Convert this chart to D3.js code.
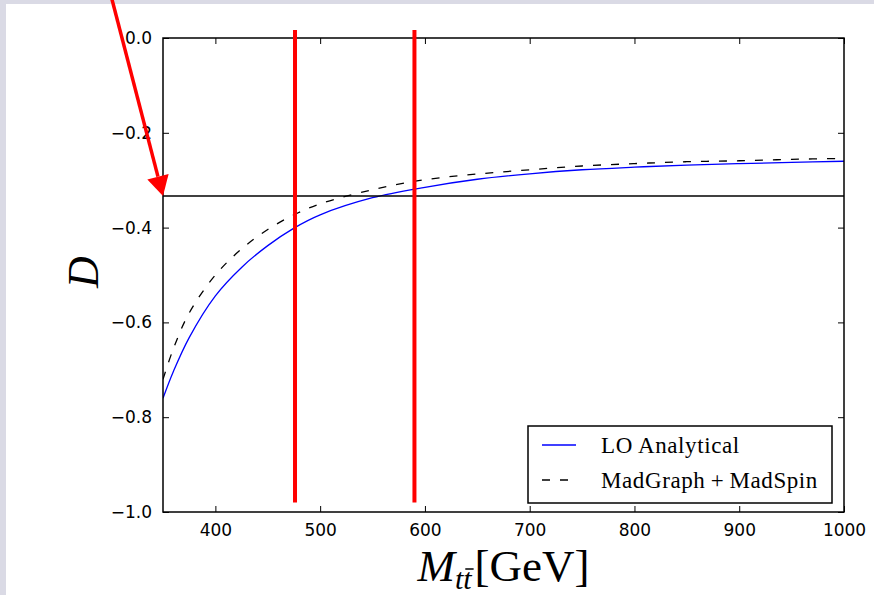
<!DOCTYPE html>
<html>
<head>
<meta charset="utf-8">
<script src="https://cdn.jsdelivr.net/npm/d3@7"></script>
<style>
  html, body { margin: 0; padding: 0; background: #fff; }
  svg { display: block; }
</style>
</head>
<body>
<div id="chart"></div>
<script>
// Data
var massValues = [350, 360, 375, 400, 425, 450, 475, 500, 550, 600, 650, 700, 750, 800, 850, 900, 950, 1000];
var loAnalytical = [-0.760, -0.703, -0.632, -0.544, -0.484, -0.438, -0.401, -0.373, -0.337, -0.315, -0.298, -0.2865, -0.278, -0.2725, -0.268, -0.265, -0.2625, -0.260];
var madGraph = [-0.720, -0.655, -0.580, -0.500, -0.445, -0.404, -0.373, -0.350, -0.320, -0.299, -0.287, -0.278, -0.270, -0.265, -0.261, -0.259, -0.256, -0.254];
var xTicks = [400, 500, 600, 700, 800, 900, 1000];
var yTicks = [0, -0.2, -0.4, -0.6, -0.8, -1.0];
var seriesNames = ["LO Analytical", "MadGraph\u2009+\u2009MadSpin"];
var referenceLevel = -1 / 3;
var redMarkers = [476, 590];
var redMarkerRange = [-0.98, 0.017];
var arrowFrom = [301, 0.084];
var arrowTo = [350, referenceLevel];

var attrs = {
  svgWidth: 874,
  svgHeight: 595,
  marginLeft: 163,
  marginTop: 38,
  chartWidth: 681,
  chartHeight: 474,
  tickFont: 'DejaVu Sans, sans-serif',
  mathFont: 'Liberation Serif, Times New Roman, serif'
};

var svg = d3.select('#chart').append('svg')
  .attr('width', attrs.svgWidth)
  .attr('height', attrs.svgHeight);

// frame strips of the slide
svg.append('rect').attr('x', 0).attr('y', 0).attr('width', attrs.svgWidth).attr('height', 4).attr('fill', '#dadae5');
svg.append('rect').attr('x', 0).attr('y', 0).attr('width', 6).attr('height', attrs.svgHeight).attr('fill', '#dadae5');

var chart = svg.append('g')
  .attr('transform', 'translate(' + attrs.marginLeft + ',' + attrs.marginTop + ')');

var x = d3.scaleLinear().domain([350, 1000]).range([0, attrs.chartWidth]);
var y = d3.scaleLinear().domain([-1, 0]).range([attrs.chartHeight, 0]);

var fmt = function (d) { return d3.format('.1f')(d).replace('-', '\u2212'); };

// ticks, inward on all four sides
function styleAxis(g) {
  g.select('.domain').remove();
  g.selectAll('.tick line').attr('stroke', '#000').attr('stroke-width', 1);
  g.selectAll('.tick text').attr('font-family', attrs.tickFont).attr('font-size', 17).attr('fill', '#000');
}

chart.append('g')
  .attr('transform', 'translate(0,' + attrs.chartHeight + ')')
  .call(d3.axisBottom(x).tickValues(xTicks).tickSize(-6).tickPadding(12).tickFormat(d3.format('d')))
  .call(styleAxis);

chart.append('g')
  .call(d3.axisTop(x).tickValues(xTicks).tickSize(-6).tickFormat(''))
  .call(styleAxis);

chart.append('g')
  .call(d3.axisLeft(y).tickValues(yTicks).tickSize(-6).tickPadding(11).tickFormat(fmt))
  .call(styleAxis);

chart.append('g')
  .attr('transform', 'translate(' + attrs.chartWidth + ',0)')
  .call(d3.axisRight(y).tickValues(yTicks).tickSize(-6).tickFormat(''))
  .call(styleAxis);

// curves
chart.append('clipPath').attr('id', 'plotClip')
  .append('rect').attr('width', attrs.chartWidth).attr('height', attrs.chartHeight);

var line = d3.line()
  .curve(d3.curveCatmullRom.alpha(0.5))
  .x(function (d) { return x(d[0]); })
  .y(function (d) { return y(d[1]); });

var plot = chart.append('g').attr('clip-path', 'url(#plotClip)');

plot.append('path')
  .datum(massValues.map(function (m, i) { return [m, madGraph[i]]; }))
  .attr('fill', 'none')
  .attr('stroke', '#000')
  .attr('stroke-width', 1.3)
  .attr('stroke-dasharray', '8,10')
  .attr('d', line);

plot.append('path')
  .datum(massValues.map(function (m, i) { return [m, loAnalytical[i]]; }))
  .attr('fill', 'none')
  .attr('stroke', '#0000ff')
  .attr('stroke-width', 1.3)
  .attr('d', line);

// reference level
chart.append('line')
  .attr('x1', x(350)).attr('x2', x(1000))
  .attr('y1', y(referenceLevel)).attr('y2', y(referenceLevel))
  .attr('stroke', '#000').attr('stroke-width', 1.6);

// axes frame
chart.append('rect')
  .attr('width', attrs.chartWidth).attr('height', attrs.chartHeight)
  .attr('fill', 'none').attr('stroke', '#000').attr('stroke-width', 1.5);

// legend
var legend = chart.append('g').attr('transform', 'translate(' + (528 - attrs.marginLeft) + ',' + (426 - attrs.marginTop) + ')');
legend.append('rect')
  .attr('width', 304).attr('height', 77)
  .attr('fill', '#fff').attr('stroke', '#000').attr('stroke-width', 1.5);

legend.selectAll('line.sample').data(seriesNames).enter().append('line')
  .attr('class', 'sample')
  .attr('x1', 14).attr('x2', 48)
  .attr('y1', function (d, i) { return 19 + i * 35; })
  .attr('y2', function (d, i) { return 19 + i * 35; })
  .attr('stroke', function (d, i) { return i === 0 ? '#0000ff' : '#000'; })
  .attr('stroke-width', 1.3)
  .attr('stroke-dasharray', function (d, i) { return i === 0 ? null : '8,10'; });

legend.selectAll('text.label').data(seriesNames).enter().append('text')
  .attr('class', 'label')
  .attr('x', 73)
  .attr('y', function (d, i) { return 27 + i * 35; })
  .attr('font-family', attrs.mathFont)
  .attr('font-size', 23)
  .attr('letter-spacing', 0.6)
  .attr('fill', '#000')
  .text(function (d) { return d; });

// red markers
svg.append('g').selectAll('line').data(redMarkers).enter().append('line')
  .attr('x1', function (d) { return attrs.marginLeft + x(d); })
  .attr('x2', function (d) { return attrs.marginLeft + x(d); })
  .attr('y1', attrs.marginTop + y(redMarkerRange[1]))
  .attr('y2', attrs.marginTop + y(redMarkerRange[0]))
  .attr('stroke', '#ff0000')
  .attr('stroke-width', 4);

// red arrow
var ax0 = attrs.marginLeft + x(arrowFrom[0]), ay0 = attrs.marginTop + y(arrowFrom[1]);
var ax1 = attrs.marginLeft + x(arrowTo[0]), ay1 = attrs.marginTop + y(arrowTo[1]);
var ang = Math.atan2(ay1 - ay0, ax1 - ax0);
var headLen = 20, headHalf = 11;
var bx = ax1 - headLen * Math.cos(ang), by = ay1 - headLen * Math.sin(ang);
svg.append('line')
  .attr('x1', ax0).attr('y1', ay0).attr('x2', bx).attr('y2', by)
  .attr('stroke', '#ff0000').attr('stroke-width', 3.5);
svg.append('path')
  .attr('d', 'M' + ax1 + ',' + ay1 +
    'L' + (bx + headHalf * Math.sin(ang)) + ',' + (by - headHalf * Math.cos(ang)) +
    'L' + (bx - headHalf * Math.sin(ang)) + ',' + (by + headHalf * Math.cos(ang)) + 'Z')
  .attr('fill', '#ff0000');

// x title: M_{t tbar}[GeV], pieces measured and placed one after another
var xTitle = svg.append('g');
var pieces = [
  { text: 'M', size: 45, italic: true, dy: 0 },
  { text: 't', size: 30, italic: true, dy: 8 },
  { text: 't', size: 30, italic: true, dy: 8, bar: true },
  { text: '[GeV]', size: 45, italic: false, dy: 0, gap: 3 }
];
var cursor = 0;
pieces.forEach(function (p) {
  cursor += p.gap || 0;
  var t = xTitle.append('text')
    .attr('x', cursor)
    .attr('y', p.dy)
    .attr('font-family', attrs.mathFont)
    .attr('font-size', p.size)
    .attr('font-style', p.italic ? 'italic' : 'normal')
    .attr('fill', '#000')
    .text(p.text);
  var w = t.node().getComputedTextLength();
  if (p.bar) {
    xTitle.append('line')
      .attr('x1', cursor + 2).attr('x2', cursor + w + 2)
      .attr('y1', p.dy - 20).attr('y2', p.dy - 20)
      .attr('stroke', '#000').attr('stroke-width', 1.5);
  }
  cursor += w;
});
xTitle.attr('transform', 'translate(' + (attrs.marginLeft + attrs.chartWidth / 2 - cursor / 2) + ',581)');

svg.append('text')
  .attr('transform', 'translate(98,272) rotate(-90)')
  .attr('text-anchor', 'middle')
  .attr('font-family', attrs.mathFont)
  .attr('font-style', 'italic')
  .attr('font-size', 44)
  .attr('fill', '#000')
  .text('D');
</script>
</body>
</html>
